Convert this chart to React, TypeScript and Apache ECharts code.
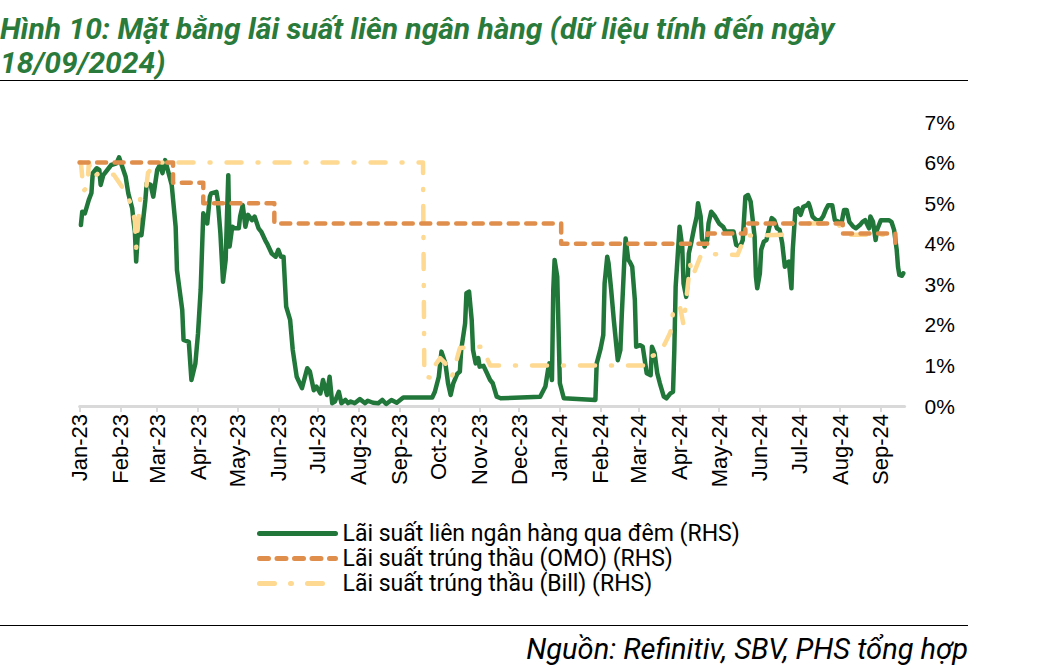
import React, { useEffect, useRef } from "react";
import * as echarts from "echarts";

const TITLE_LINE_1 = "Hình 10: Mặt bằng lãi suất liên ngân hàng (dữ liệu tính đến ngày";
const TITLE_LINE_2 = "18/09/2024)";
const SOURCE = "Nguồn: Refinitiv, SBV, PHS tổng hợp";

const SERIES_NAMES = [
  "Lãi suất liên ngân hàng qua đêm (RHS)",
  "Lãi suất trúng thầu (OMO) (RHS)",
  "Lãi suất trúng thầu (Bill) (RHS)",
];

const MONTHS = ["Jan", "Feb", "Mar", "Apr", "May", "Jun", "Jul", "Aug", "Sep", "Oct", "Nov", "Dec"];
const START_DATE = "2023-01-01";
const END_DATE = "2024-09-19";

const Y_TICKS = [0, 1, 2, 3, 4, 5, 6, 7];

// Overnight interbank rate (%)
const overnight: [string, number][] = [
  ["2023-01-02", 4.46], ["2023-01-03", 4.79], ["2023-01-05", 4.75], ["2023-01-08", 5.08],
  ["2023-01-10", 5.25], ["2023-01-11", 5.74], ["2023-01-14", 5.86], ["2023-01-16", 5.82],
  ["2023-01-17", 5.45], ["2023-01-19", 5.69], ["2023-01-25", 5.94], ["2023-01-29", 5.98],
  ["2023-01-31", 6.13], ["2023-02-02", 5.94], ["2023-02-05", 5.65], ["2023-02-07", 5.24],
  ["2023-02-10", 4.87], ["2023-02-11", 4.54], ["2023-02-12", 4.3], ["2023-02-13", 3.56],
  ["2023-02-15", 4.63], ["2023-02-17", 4.21], ["2023-02-20", 5.08], ["2023-02-21", 5.49],
  ["2023-02-24", 5.45], ["2023-02-26", 5.16], ["2023-03-01", 5.82], ["2023-03-03", 5.94],
  ["2023-03-05", 5.74], ["2023-03-07", 6.06], ["2023-03-09", 5.82], ["2023-03-12", 5.45],
  ["2023-03-15", 4.42], ["2023-03-16", 3.35], ["2023-03-18", 2.86], ["2023-03-20", 2.37],
  ["2023-03-21", 1.63], ["2023-03-25", 1.58], ["2023-03-27", 0.64], ["2023-03-30", 1.05],
  ["2023-04-01", 1.79], ["2023-04-03", 2.86], ["2023-04-05", 4.75], ["2023-04-08", 4.5],
  ["2023-04-10", 5.16], ["2023-04-11", 5.24], ["2023-04-15", 5.28], ["2023-04-16", 5.08],
  ["2023-04-18", 4.26], ["2023-04-20", 3.06], ["2023-04-22", 3.6], ["2023-04-23", 4.67],
  ["2023-04-24", 5.69], ["2023-04-25", 3.93], ["2023-04-27", 4.42], ["2023-04-29", 4.38],
  ["2023-05-02", 4.38], ["2023-05-03", 4.67], ["2023-05-05", 4.95], ["2023-05-07", 4.42],
  ["2023-05-09", 4.71], ["2023-05-12", 4.58], ["2023-05-14", 4.67], ["2023-05-17", 4.38],
  ["2023-05-19", 4.3], ["2023-05-22", 4.09], ["2023-05-24", 3.97], ["2023-05-27", 3.76],
  ["2023-05-30", 3.68], ["2023-06-01", 3.85], ["2023-06-03", 3.68], ["2023-06-05", 3.68],
  ["2023-06-07", 2.45], ["2023-06-10", 2.12], ["2023-06-12", 1.38], ["2023-06-15", 0.72],
  ["2023-06-19", 0.44], ["2023-06-23", 0.93], ["2023-06-25", 0.85], ["2023-06-28", 0.39],
  ["2023-06-30", 0.48], ["2023-07-03", 0.31], ["2023-07-05", 0.64], ["2023-07-08", 0.27],
  ["2023-07-10", 0.72], ["2023-07-12", 0.07], ["2023-07-14", 0.11], ["2023-07-17", 0.35],
  ["2023-07-19", 0.07], ["2023-07-22", 0.15], ["2023-07-24", 0.07], ["2023-07-26", 0.11],
  ["2023-07-29", 0.07], ["2023-08-02", 0.17], ["2023-08-06", 0.07], ["2023-08-08", 0.13],
  ["2023-08-12", 0.08], ["2023-08-16", 0.07], ["2023-08-19", 0.15], ["2023-08-22", 0.05],
  ["2023-08-26", 0.15], ["2023-08-30", 0.08], ["2023-09-04", 0.21], ["2023-09-26", 0.21],
  ["2023-09-28", 0.35], ["2023-10-01", 0.72], ["2023-10-03", 1.34], ["2023-10-06", 1.05],
  ["2023-10-08", 0.56], ["2023-10-10", 0.27], ["2023-10-12", 0.56], ["2023-10-15", 0.79],
  ["2023-10-17", 0.85], ["2023-10-18", 1.38], ["2023-10-21", 2.04], ["2023-10-22", 2.78],
  ["2023-10-24", 2.82], ["2023-10-26", 2.12], ["2023-10-27", 1.38], ["2023-10-29", 1.05],
  ["2023-10-31", 1.18], ["2023-11-01", 0.97], ["2023-11-04", 0.99], ["2023-11-06", 0.85],
  ["2023-11-09", 0.64], ["2023-11-11", 0.56], ["2023-11-14", 0.23], ["2023-11-17", 0.19],
  ["2023-12-17", 0.23], ["2023-12-21", 0.48], ["2023-12-23", 0.89], ["2023-12-24", 1.05],
  ["2023-12-26", 0.64], ["2023-12-27", 2.86], ["2023-12-28", 3.6], ["2023-12-30", 3.19],
  ["2023-12-31", 1.87], ["2024-01-01", 0.56], ["2024-01-04", 0.19], ["2024-01-28", 0.15],
  ["2024-01-29", 1.05], ["2024-02-01", 1.42], ["2024-02-03", 1.75], ["2024-02-04", 3.02],
  ["2024-02-06", 3.68], ["2024-02-07", 3.52], ["2024-02-09", 2.86], ["2024-02-11", 2.12],
  ["2024-02-13", 1.46], ["2024-02-14", 1.13], ["2024-02-16", 1.38], ["2024-02-17", 2.2],
  ["2024-02-19", 3.6], ["2024-02-20", 4.13], ["2024-02-22", 3.6], ["2024-02-23", 3.56],
  ["2024-02-25", 3.43], ["2024-02-27", 2.61], ["2024-02-28", 1.46], ["2024-03-02", 1.5],
  ["2024-03-04", 1.46], ["2024-03-07", 0.81], ["2024-03-10", 0.76], ["2024-03-11", 1.46],
  ["2024-03-13", 1.3], ["2024-03-15", 0.81], ["2024-03-17", 0.56], ["2024-03-20", 0.23],
  ["2024-03-22", 0.19], ["2024-03-25", 0.31], ["2024-03-27", 0.35], ["2024-03-28", 1.38],
  ["2024-03-29", 2.94], ["2024-03-30", 3.43], ["2024-03-31", 3.93], ["2024-04-01", 4.42],
  ["2024-04-03", 3.93], ["2024-04-04", 3.02], ["2024-04-06", 2.69], ["2024-04-07", 3.02],
  ["2024-04-08", 3.76], ["2024-04-10", 4.05], ["2024-04-12", 4.38], ["2024-04-14", 4.67],
  ["2024-04-15", 5.0], ["2024-04-17", 4.67], ["2024-04-18", 4.13], ["2024-04-20", 3.93],
  ["2024-04-22", 4.09], ["2024-04-23", 4.5], ["2024-04-25", 4.79], ["2024-04-28", 4.67],
  ["2024-05-01", 4.5], ["2024-05-04", 4.42], ["2024-05-06", 4.3], ["2024-05-12", 4.3],
  ["2024-05-14", 3.97], ["2024-05-17", 3.93], ["2024-05-19", 4.09], ["2024-05-21", 5.16],
  ["2024-05-23", 5.2], ["2024-05-25", 5.04], ["2024-05-28", 4.17], ["2024-05-29", 3.19],
  ["2024-05-30", 2.9], ["2024-06-01", 3.27], ["2024-06-02", 3.85], ["2024-06-04", 4.05],
  ["2024-06-06", 4.09], ["2024-06-08", 4.38], ["2024-06-10", 4.63], ["2024-06-12", 4.58],
  ["2024-06-14", 4.38], ["2024-06-16", 4.34], ["2024-06-18", 4.01], ["2024-06-20", 3.43],
  ["2024-06-21", 3.52], ["2024-06-23", 3.56], ["2024-06-25", 2.9], ["2024-06-26", 3.85],
  ["2024-06-28", 4.83], ["2024-06-30", 4.87], ["2024-07-02", 4.71], ["2024-07-04", 4.91],
  ["2024-07-07", 4.95], ["2024-07-08", 5.0], ["2024-07-09", 4.91], ["2024-07-11", 4.67],
  ["2024-07-14", 4.58], ["2024-07-17", 4.58], ["2024-07-19", 4.67], ["2024-07-21", 4.83],
  ["2024-07-23", 4.95], ["2024-07-26", 4.95], ["2024-07-28", 4.58], ["2024-07-31", 4.54],
  ["2024-08-02", 4.5], ["2024-08-04", 4.83], ["2024-08-06", 4.83], ["2024-08-08", 4.54],
  ["2024-08-11", 4.42], ["2024-08-13", 4.38], ["2024-08-16", 4.46], ["2024-08-18", 4.54],
  ["2024-08-20", 4.58], ["2024-08-23", 4.38], ["2024-08-24", 4.67], ["2024-08-26", 4.54],
  ["2024-08-28", 4.09], ["2024-08-29", 4.34], ["2024-09-01", 4.58], ["2024-09-07", 4.58],
  ["2024-09-09", 4.54], ["2024-09-11", 4.34], ["2024-09-13", 3.85], ["2024-09-14", 3.43],
  ["2024-09-15", 3.23], ["2024-09-17", 3.21], ["2024-09-18", 3.27],
];

// OMO winning rate (%), value from each change date
const omo: [string, number][] = [
  ["2023-01-01", 6.0], ["2023-03-13", 5.5], ["2023-04-05", 5.0], ["2023-05-29", 4.5],
  ["2024-01-02", 4.0], ["2024-04-22", 4.25], ["2024-05-21", 4.5], ["2024-08-03", 4.25],
  ["2024-09-12", 4.0], ["2024-09-13", 4.0],
];

// Bill winning rate (%)
const bill: [string, number][] = [
  ["2023-01-01", 6.0], ["2023-01-02", 6.0], ["2023-01-04", 5.3], ["2023-01-07", 5.4],
  ["2023-01-08", 6.0], ["2023-01-11", 5.65], ["2023-01-16", 5.74], ["2023-01-27", 5.7],
  ["2023-02-05", 5.27], ["2023-02-10", 4.9], ["2023-02-12", 4.55], ["2023-02-13", 3.9],
  ["2023-02-16", 5.1], ["2023-02-20", 5.2], ["2023-02-22", 5.75], ["2023-03-01", 6.0],
  ["2023-09-19", 6.0], ["2023-09-20", 0.72], ["2023-09-25", 0.7], ["2023-09-27", 0.95],
  ["2023-10-02", 1.18], ["2023-10-06", 1.05], ["2023-10-11", 0.72], ["2023-10-13", 0.95],
  ["2023-10-17", 1.43], ["2023-10-24", 1.45], ["2023-11-03", 1.46], ["2023-11-09", 1.0],
  ["2024-03-06", 1.0], ["2024-03-08", 1.2], ["2024-03-17", 1.3], ["2024-03-21", 1.55],
  ["2024-03-25", 1.82], ["2024-03-27", 2.3], ["2024-03-29", 2.4], ["2024-04-01", 2.5],
  ["2024-04-04", 2.0], ["2024-04-07", 2.9], ["2024-04-09", 3.5], ["2024-04-11", 3.2],
  ["2024-04-17", 3.7], ["2024-04-22", 3.75], ["2024-05-15", 3.72], ["2024-05-21", 4.2],
  ["2024-06-19", 4.22], ["2024-06-24", 4.5], ["2024-07-30", 4.5], ["2024-08-06", 4.22],
  ["2024-09-12", 4.22],
];

function dayRange(start: string, end: string): string[] {
  const out: string[] = [];
  const [sy, sm, sd] = start.split("-").map(Number);
  const [ey, em, ed] = end.split("-").map(Number);
  let t = Date.UTC(sy, sm - 1, sd);
  const e = Date.UTC(ey, em - 1, ed);
  while (t <= e) {
    out.push(new Date(t).toISOString().slice(0, 10));
    t += 86400000;
  }
  return out;
}

const categories = dayRange(START_DATE, END_DATE);

const isMonthStart = (_i: number, v: string) => v.slice(8, 10) === "01";
const monthLabel = (v: string) => MONTHS[Number(v.slice(5, 7)) - 1] + "-" + v.slice(2, 4);

export default function App() {
  const ref = useRef<HTMLDivElement>(null);

  useEffect(() => {
    if (!ref.current) return;
    const chart = echarts.init(ref.current, null, { renderer: "svg" });
    const GREEN = "#21763A";
    const ORANGE = "#DF8E4C";
    const YELLOW = "#FDD992";
    chart.setOption({
      animation: false,
      backgroundColor: "#ffffff",
      grid: { left: 79.6, right: 133.4, top: 122, bottom: 263, containLabel: false },
      legend: {
        orient: "vertical",
        left: 252,
        top: 517,
        itemWidth: 76,
        itemHeight: 14,
        itemGap: 2,
        data: SERIES_NAMES,
        itemStyle: { opacity: 0, borderWidth: 0 },
        lineStyle: { width: 5 },
        textStyle: { fontFamily: "Roboto", fontSize: 23, color: "#000", padding: [0, 0, 0, 2] },
        selectedMode: false,
      },
      xAxis: {
        type: "category",
        data: categories,
        boundaryGap: false,
        axisLine: { show: true, lineStyle: { color: "#D9D9D9", width: 3 } },
        axisTick: { show: true, interval: isMonthStart, length: 6, lineStyle: { color: "#D9D9D9", width: 2 } },
        axisLabel: {
          interval: isMonthStart,
          rotate: 90,
          margin: 8,
          formatter: monthLabel,
          fontFamily: "Liberation Sans, Arial",
          fontSize: 22,
          color: "#000",
        },
        splitLine: { show: false },
      },
      yAxis: {
        type: "value",
        position: "right",
        min: Y_TICKS[0],
        max: Y_TICKS[Y_TICKS.length - 1],
        interval: 1,
        axisLine: { show: false },
        axisTick: { show: false },
        splitLine: { show: false },
        axisLabel: {
          margin: 20,
          formatter: (v: number) => v + "%",
          fontFamily: "Liberation Sans, Arial",
          fontSize: 21,
          color: "#000",
        },
      },
      series: [
        {
          name: SERIES_NAMES[0],
          type: "line",
          data: overnight,
          symbol: "none",
          z: 2,
          lineStyle: { color: GREEN, width: 4.5, join: "round", cap: "round" },
          itemStyle: { color: GREEN },
        },
        {
          name: SERIES_NAMES[2],
          type: "line",
          data: bill,
          symbol: "none",
          z: 3,
          lineStyle: { color: YELLOW, width: 4.5, type: [15, 16, 1, 16], cap: "round", join: "round" },
          itemStyle: { color: YELLOW },
        },
        {
          name: SERIES_NAMES[1],
          type: "line",
          data: omo,
          step: "end",
          symbol: "none",
          z: 4,
          lineStyle: { color: ORANGE, width: 4.5, type: [9, 8.5], cap: "round", join: "round" },
          itemStyle: { color: ORANGE },
        },
      ],
      graphic: [
        {
          type: "text",
          left: 0,
          top: 13,
          style: { text: TITLE_LINE_1, font: "italic bold 30px Roboto", fill: "#2A7A3B" },
        },
        {
          type: "text",
          left: 0,
          top: 47,
          style: { text: TITLE_LINE_2, font: "italic bold 30px Roboto", fill: "#2A7A3B" },
        },
        {
          type: "line",
          shape: { x1: 0, y1: 80.5, x2: 968, y2: 80.5 },
          style: { stroke: "#000", lineWidth: 1 },
        },
        {
          type: "line",
          shape: { x1: 0, y1: 625.5, x2: 968, y2: 625.5 },
          style: { stroke: "#000", lineWidth: 1 },
        },
        {
          type: "text",
          right: 70,
          top: 634,
          style: { text: SOURCE, font: "italic 29px Roboto", fill: "#000" },
        },
      ],
    });
    return () => chart.dispose();
  }, []);

  return (
    <div
      ref={ref}
      style={{ position: "absolute", left: 0, top: 0, width: 1038, height: 669, background: "#fff" }}
    />
  );
}
